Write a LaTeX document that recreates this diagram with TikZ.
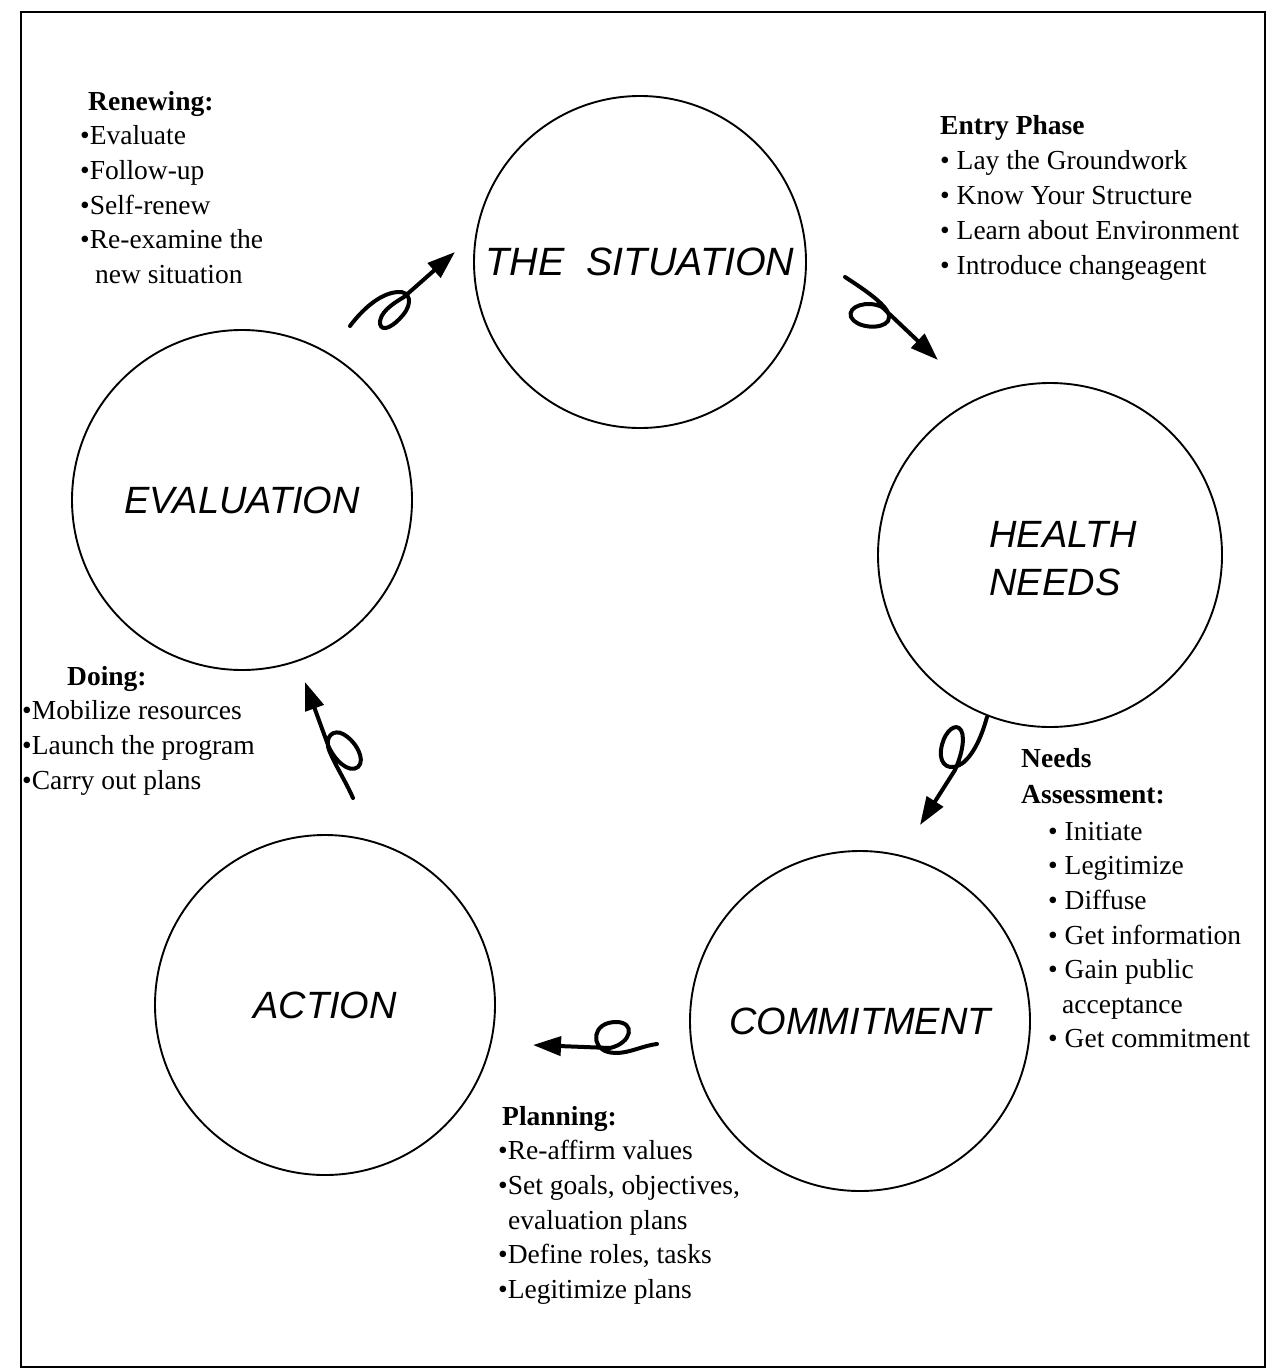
\documentclass[tikz,border=0pt]{standalone}
\usepackage{fontspec}
\setmainfont{Liberation Serif}
\newfontfamily\labelfont{Liberation Sans}
\usetikzlibrary{arrows.meta}
% invisible strut that fixes the top of a text block above its first baseline
\newcommand{\firstline}{\rule{0pt}{22pt}}

\begin{document}
\begin{tikzpicture}[x=1pt,y=-1pt,
  stage/.style={circle,draw,line width=1.9pt,minimum size=340pt,inner sep=0pt,
    font=\labelfont\itshape\fontsize{38}{48}\selectfont,align=center},
  stagetext/.style={inner sep=0pt,font=\labelfont\itshape\fontsize{38}{48}\selectfont},
  notes/.style={anchor=north west,inner sep=0pt,align=left,
    font=\fontsize{27.5}{34.6}\selectfont},
  loopy/.style={line width=4pt,line cap=round,line join=round,
    -{Triangle[length=28pt,width=19pt]}}]

\useasboundingbox (0,0) rectangle (1269,1372);

% outer frame
\draw[line width=1.8pt] (21,12) rectangle (1265,1367);

% the five stages of the cycle
\node[stage,minimum size=332pt,font=\labelfont\itshape\fontsize{39.5}{48}\selectfont] (sit) at (640,262) {THE\ \ SITUATION};
\node[stage,minimum size=344pt] (health) at (1050,555) {};
\node[stagetext,align=left] (healthtxt) at (1063,559) {HEALTH\\NEEDS};
\node[stage] (commit) at (860,1021) {COMMITMENT};
\node[stage] (action) at (325,1005) {ACTION};
\node[stage] (eval) at (242,500) {EVALUATION};

% end points of the looped arrows
\coordinate (a1s) at (350,326);  \coordinate (a1e) at (455,252);
\coordinate (a2s) at (845,277);  \coordinate (a2e) at (938,360);
\coordinate (a3s) at (987,717);  \coordinate (a3e) at (920,825);
\coordinate (a4s) at (657,1044); \coordinate (a4e) at (533,1045);
\coordinate (a5s) at (353,798);  \coordinate (a5e) at (305,682);

% evaluation -> situation
\draw[loopy] (a1s) .. controls (362,310) and (380,293) .. (398,292)
  .. controls (410,291) and (413,303) .. (403,315)
  .. controls (394,326) and (382,333) .. (380,324)
  .. controls (379,313) and (392,304) .. (404,297) -- (a1e);
% situation -> health needs
\draw[loopy] (a2s) .. controls (868,292) and (895,310) .. (888,321)
  .. controls (882,330) and (856,328) .. (851,317)
  .. controls (847,306) and (868,300) .. (882,307) -- (a2e);
% health needs -> commitment
\draw[loopy] (a3s) .. controls (982,735) and (975,752) .. (964,762)
  .. controls (950,773) and (939,765) .. (941,750)
  .. controls (943,734) and (953,724) .. (959,728)
  .. controls (966,733) and (963,752) .. (955,770) -- (a3e);
% commitment -> action
\draw[loopy] (a4s) .. controls (640,1046) and (625,1056) .. (608,1052)
  .. controls (590,1047) and (592,1022) .. (616,1022)
  .. controls (636,1022) and (632,1043) .. (610,1048) -- (a4e);
% action -> evaluation
\draw[loopy] (a5s) .. controls (345,780) and (335,765) .. (329,750)
  .. controls (324,736) and (334,729) .. (343,734)
  .. controls (356,741) and (366,760) .. (358,767)
  .. controls (349,774) and (334,760) .. (328,745) -- (a5e);

% notes beside each step
\node[notes] (renew) at (80,88) {\firstline\hspace*{8pt}{\bfseries Renewing:}\\
  •Evaluate\\ •Follow-up\\ •Self-renew\\ •Re-examine the\\ \hspace*{15pt}new situation};

\node[notes,font=\fontsize{27.5}{35}\selectfont] (entry) at (940,112) {\firstline{\bfseries Entry Phase}\\
  • Lay the Groundwork\\ • Know Your Structure\\ • Learn about Environment\\ • Introduce changeagent};

\node[notes,font=\fontsize{27.5}{36}\selectfont] (needshead) at (1021,745) {\firstline{\bfseries Needs}\\ {\bfseries Assessment:}};
\node[notes] (needs) at (1048,818) {\firstline• Initiate\\ • Legitimize\\ • Diffuse\\ • Get information\\
  • Gain public\\ \hspace*{14pt}acceptance\\ • Get commitment};

\node[notes] (doing) at (22,663) {\firstline\hspace*{45pt}{\bfseries Doing:}\\
  •Mobilize resources\\ •Launch the program\\ •Carry out plans};

\node[notes] (plan) at (498,1103) {\firstline\hspace*{4pt}{\bfseries Planning:}\\
  •Re-affirm values\\ •Set goals, objectives,\\ \hspace*{10pt}evaluation plans\\
  •Define roles, tasks\\ •Legitimize plans};
\end{tikzpicture}
\end{document}
